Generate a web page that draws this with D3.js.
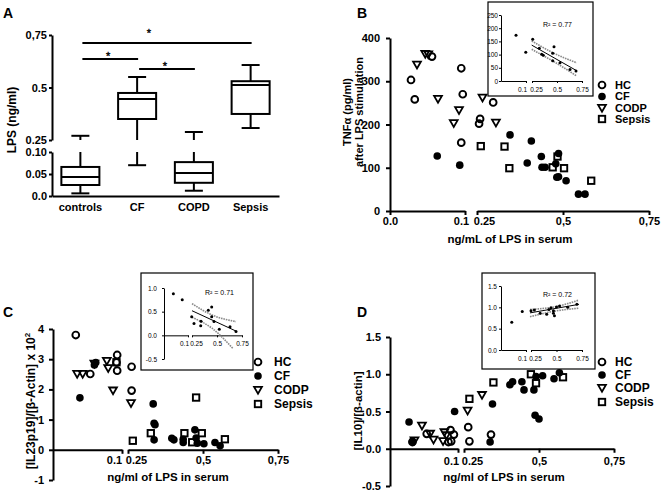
<!DOCTYPE html>
<html><head><meta charset="utf-8">
<script src="https://cdn.jsdelivr.net/npm/d3@7"></script>
<style>
body{margin:0;background:#fff;}
svg{display:block;}
</style></head><body>
<script>
// ================= DATA =================
// Panel A (box plots, LPS ng/ml)
const aCategories = ["controls","CF","COPD","Sepsis"];
const aMin    = [0.006, 0.070, 0.012, 0.307];
const aQ1     = [0.025, 0.350, 0.030, 0.374];
const aMedian = [0.043, 0.445, 0.052, 0.512];
const aQ3     = [0.066, 0.474, 0.077, 0.530];
const aMax    = [0.270, 0.550, 0.288, 0.607];
const aYTicksLow = [0, 0.05, 0.10];
const aYLabelsLow = ["0.0","0.05","0.10"];
const aYTicksHigh = [0.25, 0.5, 0.75];
const aYLabelsHigh = ["0.25","0.5","0,75"];
const aSigPairs = [["controls","Sepsis"],["controls","CF"],["CF","COPD"]];
const aSigLevels = [0.712, 0.636, 0.588];

// Shared
const groupLabels = ["HC","CF","CODP","Sepsis"];
const groupSymbols = ["openCircle","filledCircle","openTriangle","openSquare"];
const xTicksSeg1B = [0, 0.1];
const xLabelsSeg1B = ["0.0","0.1"];
const xTicksSeg1 = [0.1];
const xLabelsSeg1 = ["0.1"];
const xTicksSeg2 = [0.25, 0.5, 0.75];
const xLabelsSeg2 = ["0.25","0,5","0,75"];
const insetXLabelsSeg2 = ["0.25","0.5","0.75"];

// Panel B: TNFa (pg/ml) vs LPS
const bHC = [[0.028,303],[0.033,258],[0.056,357],[0.095,330],[0.097,270],[0.095,158],[0.259,213],[0.256,202],[0.297,251]];
const bCF = [[0.063,127],[0.093,106],[0.346,176],[0.408,162],[0.396,111],[0.437,126],[0.439,101],[0.448,101],[0.487,133],[0.479,109],[0.482,78],[0.487,79],[0.509,70],[0.545,39],[0.564,39]];
const bCODP = [[0.036,338],[0.047,363],[0.051,362],[0.064,259],[0.092,233],[0.085,203],[0.266,262],[0.305,204]];
const bSepsis = [[0.261,150],[0.330,149],[0.344,99],[0.470,101],[0.484,126],[0.503,99],[0.582,70]];
const bYTicks = [0,100,200,300,400];
const bYLabels = ["0","100","200","300","400"];
const bInsetPts = [[0.06,173],[0.099,109],[0.257,158],[0.323,124],[0.347,101],[0.363,98],[0.47,130],[0.457,105],[0.457,77],[0.53,69],[0.63,44],[0.69,38]];
const bInsetFit = [[0.247,136],[0.697,39]];
const bInsetUpper = [[0.247,152],[0.47,105],[0.697,69]];
const bInsetLower = [[0.247,120],[0.47,73],[0.697,19]];
const bInsetYTicks = [0,50,100,150,200,250];
const bInsetYLabels = ["0","50","100","150","200","250"];
const bR2 = "R² = 0.77";

// Panel C: [IL23p19]/[b-Actin] x 10^2
const cHC = [[0.033,3.80],[0.054,2.51],[0.093,3.14],[0.092,2.89],[0.093,2.62],[0.262,2.75],[0.262,1.96]];
const cCF = [[0.039,1.72],[0.062,2.89],[0.060,2.81],[0.334,1.52],[0.337,0.88],[0.340,0.83],[0.337,0.33],[0.396,0.38],[0.403,0.33],[0.434,0.24],[0.434,0.35],[0.473,0.66],[0.477,0.39],[0.481,0.22],[0.503,0.20],[0.540,0.24],[0.557,0.13]];
const cCODP = [[0.035,2.51],[0.043,2.51],[0.060,2.85],[0.078,2.94],[0.080,2.70],[0.087,1.96],[0.260,1.54]];
const cSepsis = [[0.092,2.90],[0.266,0.30],[0.326,0.55],[0.438,0.55],[0.477,1.73],[0.464,0.25],[0.496,0.55],[0.573,0.35]];
const cYTicks = [-1,0,1,2,3,4];
const cYLabels = ["-1","0","1","2","3","4"];
const cInsetPts = [[0.039,0.88],[0.076,0.75],[0.247,0.39],[0.27,0.25],[0.337,0.20],[0.34,0.30],[0.413,0.53],[0.447,0.60],[0.447,0.39],[0.47,0.29],[0.523,0.13],[0.63,0.18],[0.69,0.08]];
const cInsetFit = [[0.25,0.52],[0.69,0.09]];
const cInsetUpper = [[0.25,0.67],[0.45,0.43],[0.69,0.29]];
const cInsetLower = [[0.25,0.38],[0.45,0.15],[0.66,-0.28]];
const cInsetYTicks = [-0.5,0,0.5,1.0];
const cInsetYLabels = ["-0.5","0.0","0.5","1.0"];
const cR2 = "R² = 0.71";

// Panel D: [IL10]/[b-actin]
const dHC = [[0.033,0.09],[0.054,0.20],[0.089,0.25],[0.094,0.19],[0.090,0.10],[0.086,0.09],[0.264,0.29],[0.268,0.10],[0.340,0.19]];
const dCF = [[0.028,0.36],[0.033,0.10],[0.095,0.50],[0.337,0.09],[0.345,0.60],[0.403,0.86],[0.412,0.90],[0.443,0.90],[0.450,0.79],[0.483,0.79],[0.487,0.45],[0.500,0.40],[0.490,0.97],[0.512,0.98],[0.550,0.94],[0.568,1.02]];
const dCODP = [[0.036,0.11],[0.047,0.31],[0.059,0.20],[0.064,0.12],[0.078,0.10],[0.083,0.18],[0.080,0.22],[0.262,0.51],[0.310,0.72]];
const dSepsis = [[0.268,0.67],[0.348,0.89],[0.473,1.00],[0.490,0.88],[0.580,0.96]];
const dYTicks = [-0.5,0,0.5,1.0,1.5];
const dYLabels = ["-0.5","0.0","0.5","1.0","1.5"];
const dInsetPts = [[0.043,0.65],[0.085,0.90],[0.25,0.92],[0.283,0.94],[0.34,0.86],[0.404,0.84],[0.426,0.95],[0.446,0.99],[0.47,0.92],[0.47,0.86],[0.5,1.01],[0.53,1.03],[0.61,1.0],[0.70,1.07],[0.48,0.80]];
const dInsetFit = [[0.24,0.87],[0.72,1.07]];
const dInsetUpper = [[0.24,0.95],[0.48,1.01],[0.72,1.17]];
const dInsetLower = [[0.24,0.78],[0.48,0.91],[0.72,0.98]];
const dInsetYTicks = [0,0.5,1.0,1.5];
const dInsetYLabels = ["0.0","0.5","1.0","1.5"];
const dR2 = "R² = 0.72";

// ================= DRAWING =================
const FONT = "'Liberation Sans', Arial, Helvetica, sans-serif";
const svg = d3.select("body").append("svg").attr("width",661).attr("height",493)
  .attr("font-family", FONT);

function styleAxis(g, sw, fs, weight) {
  g.attr("font-family", FONT).attr("font-size", fs).attr("font-weight", weight || "bold");
  g.select(".domain").attr("stroke","#000").attr("stroke-width",sw);
  g.selectAll(".tick line").attr("stroke","#000").attr("stroke-width",sw);
  g.selectAll(".tick text").attr("fill","#000");
}

function txt(g, x, y, s, fs, opts) {
  opts = opts || {};
  const t = g.append("text").attr("x",x).attr("y",y).text(s)
    .attr("font-size",fs).attr("font-weight",opts.weight||"bold")
    .attr("text-anchor",opts.anchor||"start").attr("fill","#000");
  if (opts.rotate) t.attr("transform",`rotate(-90,${x},${y})`);
  return t;
}

const triPath = "M-3.9,-3.1L3.9,-3.1L0,3.7Z";
function drawMarks(g, data, type, x, y) {
  const s = g.append("g");
  if (type === "openCircle") {
    s.selectAll("circle").data(data).join("circle")
      .attr("cx",d=>x(d[0])).attr("cy",d=>y(d[1])).attr("r",3.4)
      .attr("fill","none").attr("stroke","#000").attr("stroke-width",1.9);
  } else if (type === "filledCircle") {
    s.selectAll("circle").data(data).join("circle")
      .attr("cx",d=>x(d[0])).attr("cy",d=>y(d[1])).attr("r",3.8).attr("fill","#000");
  } else if (type === "openTriangle") {
    s.selectAll("path").data(data).join("path").attr("d",triPath)
      .attr("transform",d=>`translate(${x(d[0])},${y(d[1])})`)
      .attr("fill","none").attr("stroke","#000").attr("stroke-width",1.8).attr("stroke-linejoin","miter");
  } else {
    s.selectAll("rect").data(data).join("rect")
      .attr("x",d=>x(d[0])-3.2).attr("y",d=>y(d[1])-3.2).attr("width",6.4).attr("height",6.4)
      .attr("fill","none").attr("stroke","#000").attr("stroke-width",1.9);
  }
}

// ---------- Panel A ----------
(function(){
  const g = svg.append("g");
  txt(g, 3, 18, "A", 14);
  const x = d3.scaleBand().domain(aCategories).range([52,279]).paddingInner(0.33).paddingOuter(0.165);
  const yLow = d3.scaleLinear().domain([0,0.10]).range([196,152]);
  const yHigh = d3.scaleLinear().domain([0.25,0.75]).range([140,35]);
  const y = v => v <= 0.175 ? yLow(v) : yHigh(v);
  const bw = x.bandwidth();

  g.append("g").attr("transform","translate(52,0)")
    .call(d3.axisLeft(yHigh).tickValues(aYTicksHigh).tickFormat((d,i)=>aYLabelsHigh[i]).tickSize(3).tickPadding(2).tickSizeOuter(0))
    .call(styleAxis, 2, 11);
  g.append("g").attr("transform","translate(52,0)")
    .call(d3.axisLeft(yLow).tickValues(aYTicksLow).tickFormat((d,i)=>aYLabelsLow[i]).tickSize(3).tickPadding(2).tickSizeOuter(0))
    .call(styleAxis, 2, 11);
  g.append("g").attr("transform",`translate(0,${yLow(0)})`)
    .call(d3.axisBottom(x).tickSize(0).tickPadding(7).tickSizeOuter(0))
    .call(styleAxis, 2, 11);

  txt(g, 16, 120, "LPS (ng/ml)", 12, {anchor:"middle", rotate:true});

  function segs(a, b) {
    const lo = Math.min(a,b), hi = Math.max(a,b);
    if (hi <= 0.175 || lo > 0.175) return [[lo,hi]];
    return [[lo,0.10],[0.25,hi]];
  }
  aCategories.forEach((c,i)=>{
    const cx = x(c) + bw/2;
    const bg = g.append("g").attr("stroke","#000").attr("stroke-width",2).attr("fill","none");
    segs(aQ3[i], aMax[i]).concat(segs(aMin[i], aQ1[i])).forEach(s=>{
      bg.append("line").attr("x1",cx).attr("x2",cx).attr("y1",y(s[0])).attr("y2",y(s[1]));
    });
    [aMin[i], aMax[i]].forEach(v=>{
      bg.append("line").attr("x1",cx-9).attr("x2",cx+9).attr("y1",y(v)).attr("y2",y(v));
    });
    bg.append("rect").attr("x",x(c)).attr("width",bw).attr("y",y(aQ3[i])).attr("height",y(aQ1[i])-y(aQ3[i])).attr("fill","#fff");
    bg.append("line").attr("x1",x(c)).attr("x2",x(c)+bw).attr("y1",y(aMedian[i])).attr("y2",y(aMedian[i]));
  });
  const starDx = [-18,-2,-2], starDy = [-9,-2,-2];
  aSigPairs.forEach((p,i)=>{
    const x1 = x(p[0])+bw/2+2, x2 = x(p[1])+bw/2+1, yy = y(aSigLevels[i]);
    g.append("line").attr("x1",x1).attr("x2",x2).attr("y1",yy).attr("y2",yy).attr("stroke","#000").attr("stroke-width",2);
    const sx = (x1+x2)/2+starDx[i], sy = yy+starDy[i];
    g.append("text").attr("x",sx).attr("y",sy+3).text("*")
      .attr("font-size",11).attr("font-family",FONT).attr("text-anchor","middle")
      .attr("fill","#000").attr("stroke","#000").attr("stroke-width",0.35);
  });
})();

// ---------- Inset ----------
function drawInset(I) {
  const g = svg.append("g");
  g.append("rect").attr("x",I.box[0]).attr("y",I.box[1]).attr("width",I.box[2]-I.box[0]).attr("height",I.box[3]-I.box[1])
    .attr("fill","#fff").attr("stroke","#000").attr("stroke-width",1.2);
  const y = d3.scaleLinear().domain(I.yDomain).range(I.yRange);
  const xs1 = d3.scaleLinear().domain([0,0.1]).range(I.seg1);
  const xs2 = d3.scaleLinear().domain([0.25,0.75]).range(I.seg2);
  const x = v => v < 0.175 ? xs1(v) : xs2(v);
  g.append("g").attr("transform",`translate(${I.seg1[0]},0)`)
    .call(d3.axisLeft(y).tickValues(I.yTicks).tickFormat((d,i)=>I.yLabels[i]).tickSize(2).tickPadding(I.yPad).tickSizeOuter(0))
    .call(styleAxis, 1, 6.5, "normal");
  const y0 = y(0);
  g.append("g").attr("transform",`translate(0,${y0})`)
    .call(d3.axisBottom(xs1).tickValues(xTicksSeg1).tickFormat((d,i)=>xLabelsSeg1[i]).tickSize(2).tickPadding(4).tickSizeOuter(0))
    .call(styleAxis, 1, 6.5, "normal")
    .selectAll(".tick text").attr("dx",-4);
  g.append("g").attr("transform",`translate(0,${y0})`)
    .call(d3.axisBottom(xs2).tickValues(xTicksSeg2).tickFormat((d,i)=>insetXLabelsSeg2[i]).tickSize(2).tickPadding(4).tickSizeOuter(0))
    .call(styleAxis, 1, 6.5, "normal")
    .selectAll(".tick text").attr("dx",d=>d===0.25?4:0);
  const line = d3.line().x(d=>x(d[0])).y(d=>y(d[1])).curve(d3.curveMonotoneX);
  [I.upper, I.lower].forEach(b=>{
    g.append("path").attr("d",line(b)).attr("fill","none").attr("stroke","#8a8a8a").attr("stroke-width",1.6).attr("stroke-dasharray","1.6,0.9");
  });
  g.append("path").attr("d",line(I.fit)).attr("fill","none").attr("stroke","#000").attr("stroke-width",1);
  g.append("g").selectAll("circle").data(I.pts).join("circle")
    .attr("cx",d=>x(d[0])).attr("cy",d=>y(d[1])).attr("r",1.5).attr("fill","#000");
  txt(g, I.r2Pos[0], I.r2Pos[1], I.r2, 7, {weight:"normal"});
}

// ---------- Scatter panel ----------
function scatterPanel(P) {
  const g = svg.append("g");
  txt(g, P.letter[0], P.letter[1], P.letter[2], 14);
  const y = d3.scaleLinear().domain(P.yDomain).range(P.yRange);
  const xs1 = d3.scaleLinear().domain([0,0.1]).range(P.seg1);
  const xs2 = d3.scaleLinear().domain([0.25,0.75]).range(P.seg2);
  const x = v => v < 0.175 ? xs1(v) : xs2(v);
  g.append("g").attr("transform",`translate(${P.seg1[0]},0)`)
    .call(d3.axisLeft(y).tickValues(P.yTicks).tickFormat((d,i)=>P.yLabels[i]).tickSize(4).tickPadding(P.yPad).tickSizeOuter(0))
    .call(styleAxis, 2, 11);
  const y0 = y(0);
  g.append("g").attr("transform",`translate(0,${y0})`)
    .call(d3.axisBottom(xs1).tickValues(P.xTicks1).tickFormat((d,i)=>P.xLabels1[i]).tickSize(4).tickPadding(P.xPad).tickSizeOuter(0))
    .call(styleAxis, 2, 11)
    .selectAll(".tick text").attr("dx",d=>d===0.1?P.shift[0]:0);
  g.append("g").attr("transform",`translate(0,${y0})`)
    .call(d3.axisBottom(xs2).tickValues(xTicksSeg2).tickFormat((d,i)=>xLabelsSeg2[i]).tickSize(4).tickPadding(P.xPad).tickSizeOuter(0))
    .call(styleAxis, 2, 11)
    .selectAll(".tick text").attr("dx",d=>d===0.25?P.shift[1]:0);
  P.yTitle(g);
  txt(g, P.xTitle[0], P.xTitle[1], P.xTitle[2], 11.5, {anchor:"middle"});
  if (P.inset) drawInset(P.inset);
  const mg = svg.append("g");
  P.groups.forEach((d,i)=>drawMarks(mg, d, groupSymbols[i], x, y));
  const L = P.legend;
  groupLabels.forEach((lab,i)=>{
    drawMarks(mg, [[L.sx, L.ys[i]]], groupSymbols[i], v=>v, v=>v);
    txt(mg, L.tx, L.ys[i]+L.fs*0.36, lab, L.fs);
  });
}

// Panel B
scatterPanel({
  letter:[357,18,"B"],
  yDomain:[0,400], yRange:[211,38], yTicks:bYTicks, yLabels:bYLabels, yPad:6,
  seg1:[390,465], seg2:[477,649], xTicks1:xTicksSeg1B, xLabels1:xLabelsSeg1B, xPad:2, shift:[-4,7],
  groups:[bHC,bCF,bCODP,bSepsis],
  yTitle: g => {
    txt(g, 351, 112, "TNFα (pg/ml)", 11, {anchor:"middle", rotate:true});
    txt(g, 363, 112, "after LPS stimulation", 11, {anchor:"middle", rotate:true});
  },
  xTitle:[510, 243, "ng/mL of LPS in serum"],
  legend:{sx:602, tx:615, ys:[85,96.5,108,119], fs:11},
  inset:{box:[488,2,593,96], yDomain:[0,250], yRange:[81,15], yTicks:bInsetYTicks, yLabels:bInsetYLabels, yPad:1,
    seg1:[501,526], seg2:[532,582], pts:bInsetPts, fit:bInsetFit, upper:bInsetUpper, lower:bInsetLower,
    r2:bR2, r2Pos:[543,27]}
});

// Panel C
scatterPanel({
  letter:[3,317,"C"],
  yDomain:[-1,4], yRange:[480,329], yTicks:cYTicks, yLabels:cYLabels, yPad:5,
  seg1:[53,122], seg2:[128,278], xTicks1:xTicksSeg1, xLabels1:xLabelsSeg1, xPad:2, shift:[-8,8],
  groups:[cHC,cCF,cCODP,cSepsis],
  yTitle: g => {
    const t = txt(g, 35, 401, "", 12, {anchor:"middle", rotate:true});
    t.append("tspan").text("[IL23p19]/[β-Actin] x 10");
    t.append("tspan").text("2").attr("font-size",8).attr("dy",-5);
  },
  xTitle:[168, 481, "ng/ml of LPS in serum"],
  legend:{sx:258, tx:274, ys:[362,376,390,404], fs:12},
  inset:{box:[141,273,253,370], yDomain:[-0.5,1.0], yRange:[359,288], yTicks:cInsetYTicks, yLabels:cInsetYLabels, yPad:5,
    seg1:[164,188], seg2:[192,242], pts:cInsetPts, fit:cInsetFit, upper:cInsetUpper, lower:cInsetLower,
    r2:cR2, r2Pos:[205,294.5]}
});

// Panel D
scatterPanel({
  letter:[357,317,"D"],
  yDomain:[-0.5,1.5], yRange:[486,337], yTicks:dYTicks, yLabels:dYLabels, yPad:5,
  seg1:[390,458], seg2:[464,614], xTicks1:xTicksSeg1, xLabels1:xLabelsSeg1, xPad:4, shift:[-7,8],
  groups:[dHC,dCF,dCODP,dSepsis],
  yTitle: g => { txt(g, 362, 411, "[IL10]/[β-actin]", 11.5, {anchor:"middle", rotate:true}); },
  xTitle:[504, 481, "ng/ml of LPS in serum"],
  legend:{sx:602, tx:615, ys:[362,375,388,402], fs:12},
  inset:{box:[482,273,595,369], yDomain:[0,1.5], yRange:[350,286], yTicks:dInsetYTicks, yLabels:dInsetYLabels, yPad:2,
    seg1:[501,526], seg2:[531,582], pts:dInsetPts, fit:dInsetFit, upper:dInsetUpper, lower:dInsetLower,
    r2:dR2, r2Pos:[543,296.5]}
});
</script>
</body></html>
